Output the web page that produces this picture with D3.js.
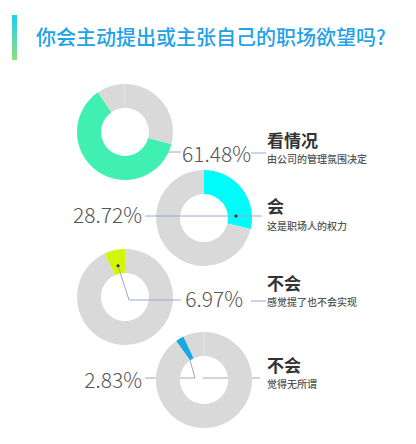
<!DOCTYPE html>
<html>
<head>
<meta charset="utf-8">
<script src="https://cdn.jsdelivr.net/npm/d3@7"></script>
<style>
  body { margin: 0; background: #fff; }
  text { font-family: "Noto Sans CJK SC", "Noto Sans", sans-serif; }
</style>
</head>
<body>
<svg id="chart" width="416" height="444"></svg>
<script>
// data
const title = '你会主动提出或主张自己的职场欲望吗?'
const answers = ['看情况', '会', '不会', '不会']
const notes = ['由公司的管理氛围决定', '这是职场人的权力', '感觉提了也不会实现', '觉得无所谓']
const shares = [61.48, 28.72, 6.97, 2.83]

const palette = ['#3ff0b2', '#00fbfb', '#d2f700', '#1aa8e2']
const rest = '#d9d9d9'

// layout: donut centres, rotation of the coloured slice (deg), label side
const layout = [
  {cx: 125, cy: 132, start: 104.4, pctRight: true},
  {cx: 204, cy: 218, start: 0, pctRight: false},
  {cx: 125, cy: 297, start: -25.1, pctRight: true},
  {cx: 204, cy: 380, start: -35.5, pctRight: false}
]

const svg = d3.select('#chart')
const R = 48, r = 24
const arc = d3.arc().innerRadius(r).outerRadius(R)
const deg = d => d * Math.PI / 180
const pct = d3.format('.2f')

// title + gradient bar
const grad = svg.append('defs').append('linearGradient')
  .attr('id', 'bar').attr('x1', 0).attr('y1', 0).attr('x2', 0).attr('y2', 1)
grad.append('stop').attr('offset', 0).attr('stop-color', '#1ccff2')
grad.append('stop').attr('offset', 1).attr('stop-color', '#90e07a')
svg.append('rect').attr('x', 12).attr('y', 15).attr('width', 5).attr('height', 45)
  .attr('fill', 'url(#bar)')
svg.append('text').attr('x', 36).attr('y', 45)
  .attr('fill', '#1ea2e8').style('font-size', '20px').style('font-weight', 500)
  .text(title)

const lineColor = '#9aa8cc'

shares.forEach(function (v, i) {
  const L = layout[i]
  const g = svg.append('g').attr('transform', 'translate(' + L.cx + ',' + L.cy + ')')
  const back = g.append('g')   // lines hidden under the ring
  const pie = d3.pie().sort(null).value(d => d)
    .startAngle(deg(L.start)).endAngle(deg(L.start) + 2 * Math.PI)
  const slices = pie([v, 100 - v])

  g.selectAll('path.slice').data(slices).enter().append('path')
    .attr('class', 'slice')
    .attr('d', arc)
    .attr('fill', (d, j) => j === 0 ? palette[i] : rest)
  // faint seam at 12 o'clock on the grey
  g.append('line').attr('x1', 0).attr('x2', 0).attr('y1', -R).attr('y2', -r)
    .attr('stroke', '#e4e4e4').attr('stroke-width', 1)
    .style('display', i === 1 || i === 2 ? 'none' : null)

  const front = g.append('g')
  const mid = (slices[0].startAngle + slices[0].endAngle) / 2
  const dot = [32 * Math.sin(mid), -32 * Math.cos(mid)]

  let py, pctX, lineY
  if (i === 0) {
    lineY = 20
    back.append('line').attr('x1', 40).attr('x2', 56).attr('y1', lineY).attr('y2', lineY)
      .attr('stroke', lineColor)
    pctX = 126; py = 30
  } else if (i === 1) {
    lineY = -2
    front.append('line').attr('x1', -59).attr('x2', 58).attr('y1', lineY).attr('y2', lineY)
      .attr('stroke', lineColor)
    front.append('circle').attr('cx', 32).attr('cy', lineY).attr('r', 1.6).attr('fill', '#333')
    pctX = -62; py = 5
  } else if (i === 2) {
    lineY = 3
    front.append('polyline')
      .attr('points', [dot, [4, lineY], [56, lineY]].map(p => p.join(',')).join(' '))
      .attr('fill', 'none').attr('stroke', lineColor)
    front.append('circle').attr('cx', dot[0]).attr('cy', dot[1]).attr('r', 1.6).attr('fill', '#333')
    pctX = 118; py = 10
  } else {
    lineY = -2
    back.append('polyline')
      .attr('points', [[-59, lineY], [-9, lineY], dot].map(p => p.join(',')).join(' '))
      .attr('fill', 'none').attr('stroke', lineColor)
    back.append('line').attr('x1', -1).attr('x2', 56).attr('y1', lineY).attr('y2', lineY)
      .attr('stroke', lineColor)
    pctX = -62; py = 8
  }
  back.lower()

  // percentage
  g.append('text').attr('x', pctX).attr('y', py)
    .attr('text-anchor', 'end').attr('fill', '#555')
    .style('font-size', '21px').style('font-weight', 300)
    .text(pct(v) + '%')

  // answer + note, always on the right column
  const hx = 267 - L.cx
  if (L.pctRight) {
    g.append('line').attr('x1', hx - 16).attr('x2', hx - 1).attr('y1', lineY + 1).attr('y2', lineY + 1)
      .attr('stroke', lineColor)
  }
  const headY = [15, -5, -7, -8][i]
  g.append('text').attr('x', hx).attr('y', headY)
    .attr('fill', '#333').style('font-size', '17px').style('font-weight', 700)
    .text(answers[i])
  g.append('text').attr('x', hx).attr('y', headY + [16, 17, 16, 16][i])
    .attr('fill', '#555').style('font-size', '10px').style('font-weight', 500)
    .text(notes[i])
})
</script>
</body>
</html>
